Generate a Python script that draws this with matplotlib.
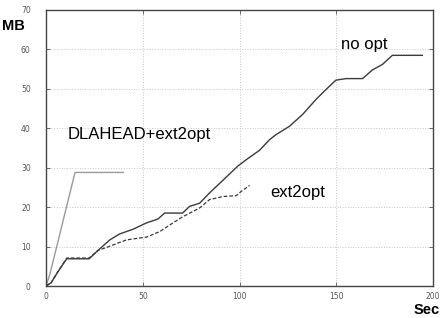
import numpy as np
import matplotlib
matplotlib.use("Agg")
import matplotlib.pyplot as plt

# data (Sec, MB)
dla_x = [0, 2, 15, 40]
dla_y = [0, 3, 28.8, 28.8]

noopt_x = [0, 2.6, 6, 10.7, 22.3, 26.8, 33, 38, 45, 51.9, 57.9, 61.3, 70.6, 74.2,
           79.4, 84.5, 91.4, 99.1, 103.4, 110.3, 115.5, 118.9, 125.8, 132.6, 139.5,
           143.8, 149.8, 155, 163.6, 168.7, 173.9, 179, 194.5]
noopt_y = [0, 0.8, 3.5, 6.9, 6.9, 9, 11.7, 13.2, 14.4, 16, 17, 18.5, 18.5, 20.2,
           21, 23.6, 26.8, 30.4, 32, 34.4, 37.1, 38.4, 40.5, 43.5, 47.3,
           49.4, 52.2, 52.6, 52.6, 54.8, 56.2, 58.5, 58.5]

ext_x = [0, 2.6, 6, 10.7, 22.3, 26.8, 31.3, 41.6, 51.9, 58.8, 65.6, 70.8, 79.4,
         84.5, 91.4, 98.3, 100.9, 105.2]
ext_y = [0, 0.8, 3.5, 7.1, 7.1, 9, 9.8, 11.7, 12.4, 13.8, 16, 17.6, 19.8,
         21.9, 22.7, 22.9, 24, 25.5]

xticks = [0, 50, 100, 150, 200]
yticks = [0, 10, 20, 30, 40, 50, 60, 70]

fig = plt.figure(figsize=(4.48, 3.18), dpi=100)
ax = fig.add_axes([0.1027, 0.1006, 0.8638, 0.868])

ax.plot(dla_x, dla_y, color="#9a9a9a", lw=1.0)
ax.plot(noopt_x, noopt_y, color="#3a3a3a", lw=1.0)
ax.plot(ext_x, ext_y, color="#3a3a3a", lw=0.9, ls=(0, (3, 1.5)))

ax.set_xlim(0, 200)
ax.set_ylim(0, 70)
ax.set_xticks(xticks)
ax.set_yticks(yticks)
ax.grid(True, color="#c8c8c8", ls=":", lw=0.7)
ax.tick_params(direction="in", length=3, width=0.6, colors="#555555",
               labelsize=5.5, labelcolor="#555555", top=True, right=True)
ax.tick_params(axis="x", pad=4.5)
ax.tick_params(axis="y", pad=11)
for s in ax.spines.values():
    s.set_color("#444444")
    s.set_linewidth(1.0)

fig.text(0.004, 0.918, "MB", fontsize=10.5, fontweight="bold",
         family="Liberation Sans", va="center", ha="left")
fig.text(0.982, 0.025, "Sec", fontsize=10.5, fontweight="bold",
         family="Liberation Sans", va="center", ha="right")

ax.text(152.6, 60, "no opt", fontsize=12, family="Liberation Sans")
ax.text(11.3, 37.2, "DLAHEAD+ext2opt", fontsize=12, family="Liberation Sans")
ax.text(115.8, 22.6, "ext2opt", fontsize=12, family="Liberation Sans")

fig.savefig("out.png", dpi=100)
